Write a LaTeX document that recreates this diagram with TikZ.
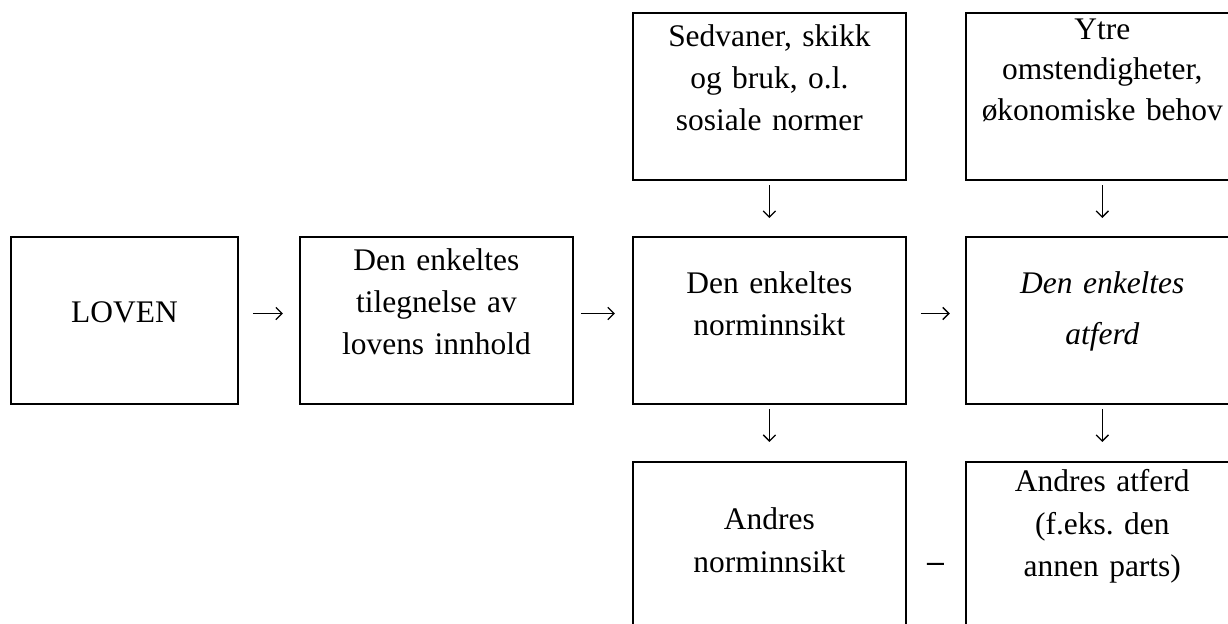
\documentclass[tikz,border=0pt]{standalone}
\usepackage{fontspec}
\setmainfont{Liberation Serif}
\usetikzlibrary{positioning,arrows.meta}
\newcommand{\boxfont}{\fontsize{17.9pt}{24pt}\selectfont}
\frenchspacing

\begin{document}
\begin{tikzpicture}[
    x=0.02cm, y=-0.02cm,
    font=\boxfont,
    node distance=1.14cm and 1.24cm,
    box/.style={rectangle, draw, line width=1.35pt, outer sep=0pt, inner sep=0pt,
                text width=5.46cm, align=center},
    narrowbox/.style={box, text width=4.54cm},
    textpos/.style 2 args={text height=#1, text depth=#2},
    ital/.style={font=\fontsize{17.9pt}{29.5pt}\selectfont\itshape},
    tight/.style={font=\fontsize{17.9pt}{23.2pt}\selectfont},
    arr/.style={-{Straight Barb[length=3.5pt,width=7pt]}, line width=0.75pt},
    tie/.style={line width=1.1pt},
  ]
  \useasboundingbox (0,0) rectangle (1228,623);
  \clip (0,0) rectangle (1228,623);

  %% ── Middle row ───────────────────────────────────────────
  \node[narrowbox, textpos={1.70cm}{1.64cm}] (loven) at (124.5,320.5) {LOVEN};
  \node[box, textpos={0.66cm}{2.68cm}] (tileg) [right=of loven]
        {Den enkeltes\\tilegnelse av\\lovens innhold};
  \node[box, textpos={1.12cm}{2.22cm}] (norm) [right=1.2cm of tileg]
        {Den enkeltes\\norminnsikt};
  \node[box, ital, textpos={1.12cm}{2.22cm}] (atferd) [right=1.2cm of norm]
        {Den enkeltes\\atferd};

  %% ── Top and bottom rows ──────────────────────────────────
  \node[box, textpos={0.66cm}{2.68cm}] (sedv) [above=of norm]
        {Sedvaner, skikk\\og bruk, o.l.\\sosiale normer};
  \node[box, tight, textpos={0.52cm}{2.82cm}] (ytre) [above=of atferd]
        {Ytre\\omstendigheter,\\økonomiske behov};
  \node[box, textpos={1.36cm}{1.98cm}] (anorm) [below=1.16cm of norm]
        {Andres\\norminnsikt};
  \node[box, textpos={0.60cm}{2.74cm}] (aatf) [below=1.16cm of atferd]
        {Andres atferd\\(f.eks. den\\annen parts)};

  %% ── Arrows ───────────────────────────────────────────────
  \draw[arr, shorten <=0.3cm, shorten >=0.34cm]
    ([yshift=0.14cm]loven.east) -- ([yshift=0.14cm]tileg.west);
  \draw[arr, shorten <=0.16cm, shorten >=0.36cm]
    ([yshift=0.14cm]tileg.east) -- ([yshift=0.14cm]norm.west);
  \draw[arr, shorten <=0.3cm, shorten >=0.32cm]
    ([yshift=0.14cm]norm.east) -- ([yshift=0.14cm]atferd.west);
  \draw[arr, shorten <=0.1cm, shorten >=0.38cm] (sedv) -- (norm);
  \draw[arr, shorten <=0.1cm, shorten >=0.38cm] (ytre) -- (atferd);
  \draw[arr, shorten <=0.1cm, shorten >=0.4cm] (norm) -- (anorm);
  \draw[arr, shorten <=0.1cm, shorten >=0.4cm] (atferd) -- (aatf);
  \draw[tie, shorten <=0.42cm, shorten >=0.44cm]
    ([yshift=-0.37cm]anorm.east) -- ([yshift=-0.37cm]aatf.west);

\end{tikzpicture}
\end{document}
